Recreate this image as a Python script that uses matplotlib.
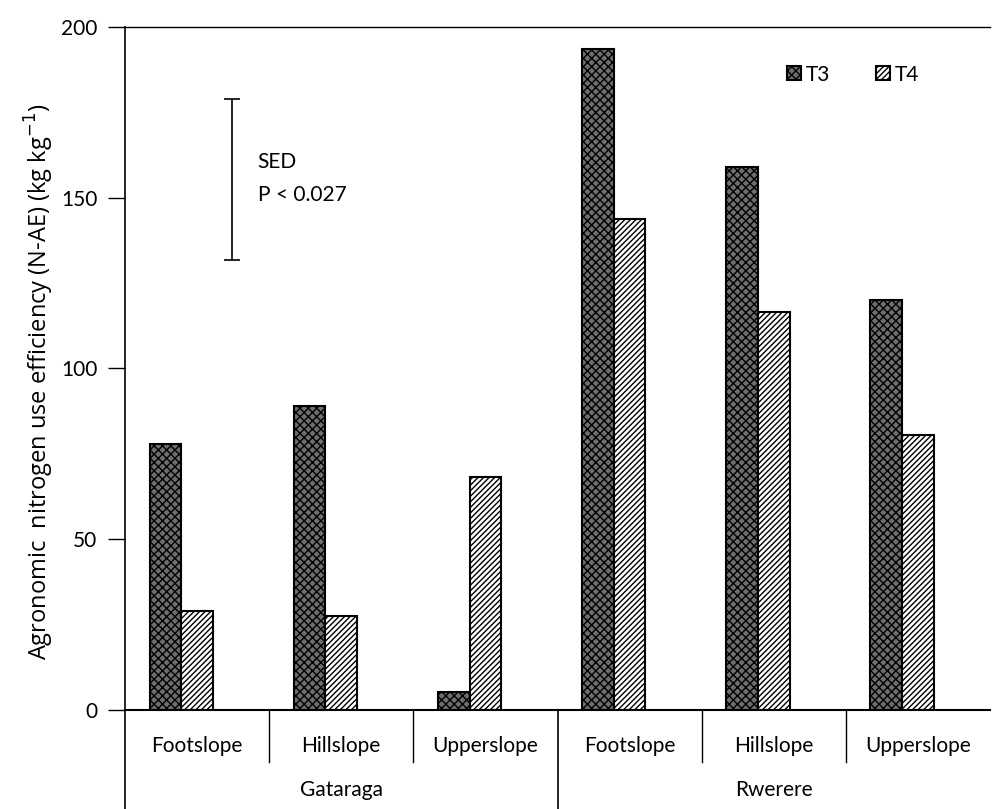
import matplotlib
matplotlib.use('Agg')
import matplotlib.pyplot as plt
from matplotlib.lines import Line2D

plt.rcParams['font.family'] = ['Lato', 'DejaVu Sans']
plt.rcParams['hatch.linewidth'] = 1.0

sites = ['Gataraga', 'Rwerere']
positions = ['Footslope', 'Hillslope', 'Upperslope']
t3 = [78, 89, 5.3, 193.5, 159, 120]
t4 = [29, 27.5, 68.3, 143.8, 116.5, 80.5]
sed_top = 178.9
sed_bottom = 131.8

fig = plt.figure(figsize=(9.92, 8.09), dpi=100)
ax = fig.add_axes([0.126, 0.1224, 0.872, 0.8442])

x = list(range(6))
w = 0.22
ax.bar([i - w for i in x], t3, w, color='#6e6e6e', edgecolor='black', hatch='xxxx', linewidth=1.5, label='T3')
ax.bar(x, t4, w, color='white', edgecolor='black', hatch='//////', linewidth=1.5, label='T4')

ax.set_xlim(-0.5, 5.5)
ax.set_ylim(0, 200)
ax.set_yticks([0, 50, 100, 150, 200])
ax.tick_params(axis='y', labelsize=15, length=12, width=1, direction='out', pad=8)
ax.set_xticks([])
ax.spines['right'].set_visible(False)
ax.spines['top'].set_linewidth(1)
ax.spines['left'].set_linewidth(1.2)
ax.spines['bottom'].set_linewidth(1.5)

ax.set_ylabel('Agronomic  nitrogen use efficiency (N-AE) (kg kg$^{-1}$)', fontsize=17,
              family=['Open Sans', 'DejaVu Sans'])
ax.yaxis.set_label_coords(-0.08, 0.48)

# SED bar
ax.errorbar([0.24], [(sed_top + sed_bottom) / 2], yerr=[(sed_top - sed_bottom) / 2],
            color='black', capsize=6, elinewidth=1.2, capthick=1.2)
ax.text(0.42, 160.5, 'SED', fontsize=15, va='center', ha='left')
ax.text(0.42, 150.8, 'P < 0.027', fontsize=15, va='center', ha='left')

# multi-level category axis
tr = ax.get_xaxis_transform()
for i in range(6):
    ax.text(i, -0.053, positions[i % 3], transform=tr, ha='center', va='center', fontsize=15)
for j, site in enumerate(sites):
    ax.text(1 + 3 * j, -0.117, site, transform=tr, ha='center', va='center', fontsize=15)
for xs in [0.5, 1.5, 3.5, 4.5]:
    ax.add_line(Line2D([xs, xs], [0, -0.076], transform=tr, color='black', lw=1, clip_on=False))
for xs in [-0.5, 2.5]:
    ax.add_line(Line2D([xs, xs], [0, -0.15], transform=tr, color='black', lw=1.2, clip_on=False))

ax.legend(loc='upper right', bbox_to_anchor=(0.918, 0.945), ncol=2, frameon=False, fontsize=15,
          handlelength=0.65, handleheight=0.65, handletextpad=0.25, columnspacing=2.2,
          borderaxespad=0, borderpad=0)

fig.savefig('out.png', dpi=100)
